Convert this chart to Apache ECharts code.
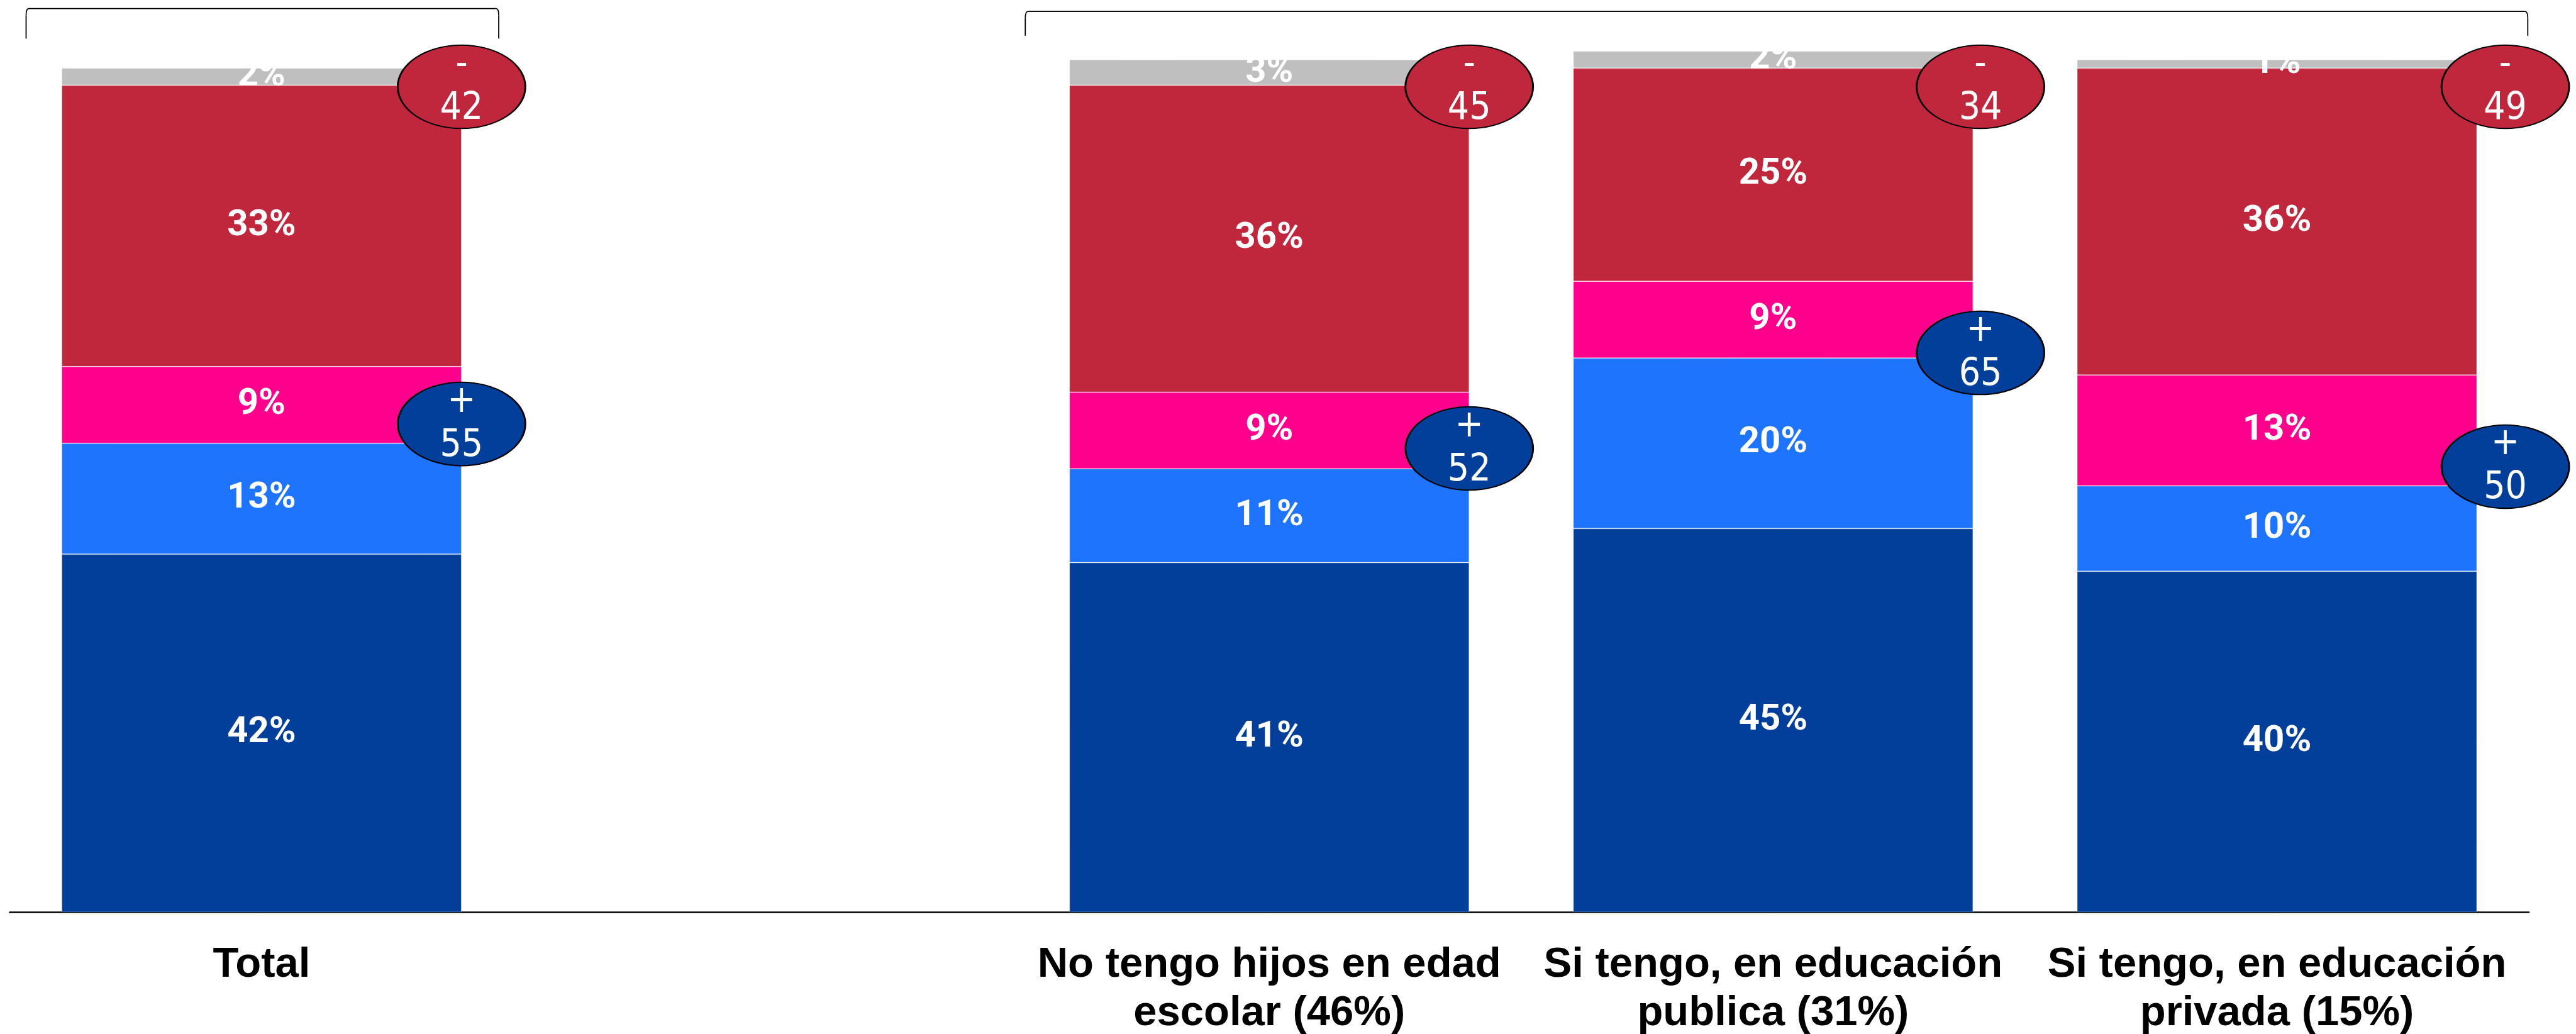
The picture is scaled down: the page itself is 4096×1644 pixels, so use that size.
<!DOCTYPE html>
<html>
<head>
<meta charset="utf-8">
<script src="https://cdn.jsdelivr.net/npm/echarts@6/dist/echarts.min.js"></script>
<style>
  html, body { margin: 0; padding: 0; background: #ffffff; }
  #chart { width: 4096px; height: 1644px; }
</style>
</head>
<body>
<div id="chart"></div>
<script>
// Categories (the empty one leaves a gap between "Total" and the breakdown)
const categories = [
  'Total',
  '',
  'No tengo hijos en edad\nescolar (46%)',
  'Si tengo, en educación\npublica (31%)',
  'Si tengo, en educación\nprivada (15%)'
];

// Stacked shares in %, bottom to top
const muyPositivo = [42, null, 41, 45, 40];
const positivo    = [13, null, 11, 20, 10];
const neutral     = [9,  null, 9,  9,  13];
const negativo    = [33, null, 36, 25, 36];
const nsnc        = [2,  null, 3,  2,  1];

// Overall scale of the drawing
const S = 0.902;
const BAR_W = 705;

// Bubble placement tweaks (px before scaling), relative to the bar's right edge
const bubbleShiftX = [0, 0, 0, 13, 50];
const plusShiftY   = [-34, 0, -36, -9, -34];
const minusShiftY  = 48;

const colors = {
  darkBlue: '#023F9B',
  lightBlue: '#1F74FE',
  pink: '#FF008C',
  red: '#C0273C',
  gray: '#BFBFBF'
};

const chart = echarts.init(document.getElementById('chart'));

const segLabel = {
  show: true,
  position: 'inside',
  color: '#ffffff',
  fontFamily: 'Roboto',
  fontWeight: 700,
  fontSize: Math.round(64 * S),
  formatter: p => (p.value == null ? '' : p.value + '%')
};

function barSeries(name, data, color) {
  return {
    name: name,
    type: 'bar',
    stack: 'share',
    data: data.map(v => (v == null ? '-' : v)),
    barWidth: BAR_W * S,
    clip: false,
    itemStyle: { color: color, borderColor: 'rgba(255,255,255,0.28)', borderWidth: 1 },
    label: segLabel,
    emphasis: { disabled: true },
    z: 2
  };
}

const bubbleLabel = {
  show: true,
  position: 'inside',
  color: '#ffffff',
  fontFamily: '"Liberation Sans Narrow", "DejaVu Sans Condensed", sans-serif',
  fontWeight: 400,
  fontSize: Math.round(66 * S),
  lineHeight: Math.round(78 * S),
  align: 'center',
  verticalAlign: 'middle'
};

const plusData = categories.map((c, i) => {
  if (muyPositivo[i] == null) return '-';
  const sum = muyPositivo[i] + positivo[i];
  return {
    value: sum,
    symbolOffset: [(BAR_W / 2 + bubbleShiftX[i]) * S, plusShiftY[i] * S],
    label: { formatter: '+\n' + sum }
  };
});

const minusData = categories.map((c, i) => {
  if (neutral[i] == null) return '-';
  const sum = neutral[i] + negativo[i];
  return {
    value: 100,
    symbolOffset: [(BAR_W / 2 + bubbleShiftX[i]) * S, minusShiftY * S],
    label: { formatter: '-\n' + sum }
  };
});

const bubbleSize = [225 * S, 147 * S];

const option = {
  backgroundColor: '#ffffff',
  animation: false,
  grid: {
    left: 17 * S,
    right: 4096 - 4458 * S,
    top: 105 * S,
    bottom: 1644 - 1608 * S,
    containLabel: false,
    outerBoundsMode: 'none'
  },
  xAxis: {
    type: 'category',
    data: categories,
    axisLine: { show: true, lineStyle: { color: '#000000', width: 2.6 } },
    axisTick: { show: false },
    splitLine: { show: false },
    axisLabel: {
      interval: 0,
      margin: 46,
      color: '#000000',
      fontFamily: '"Liberation Sans", Arial, sans-serif',
      fontWeight: 700,
      fontSize: Math.round(74 * S),
      lineHeight: Math.round(85 * S),
      align: 'center'
    }
  },
  yAxis: {
    type: 'value',
    min: 0,
    max: 100,
    show: false,
    splitLine: { show: false }
  },
  series: [
    barSeries('Muy positivo', muyPositivo, colors.darkBlue),
    barSeries('Positivo', positivo, colors.lightBlue),
    barSeries('Neutral', neutral, colors.pink),
    barSeries('Negativo', negativo, colors.red),
    barSeries('Ns/Nc', nsnc, colors.gray),
    {
      name: 'Suma positiva',
      type: 'scatter',
      data: plusData,
      symbol: 'circle',
      symbolSize: bubbleSize,
      clip: false,
      itemStyle: { color: colors.darkBlue, borderColor: '#000000', borderWidth: 2.4, opacity: 1 },
      label: bubbleLabel,
      emphasis: { disabled: true },
      z: 5
    },
    {
      name: 'Suma negativa',
      type: 'scatter',
      data: minusData,
      symbol: 'circle',
      symbolSize: bubbleSize,
      clip: false,
      itemStyle: { color: colors.red, borderColor: '#000000', borderWidth: 2.4, opacity: 1 },
      label: bubbleLabel,
      emphasis: { disabled: true },
      z: 5
    }
  ]
};

chart.setOption(option);

// Group brackets above the bars, placed from the category axis
const bracketStyle = { stroke: '#000000', lineWidth: 1.8, fill: null };

function bracket(x1, x2, yTop, yBottom) {
  const rx = 5 * S, ry = 12 * S;
  const parts = [
    { type: 'line', shape: { x1: x1, y1: yBottom, x2: x1, y2: yTop + ry } },
    { type: 'bezierCurve', shape: { x1: x1, y1: yTop + ry, cpx1: x1, cpy1: yTop, x2: x1 + rx, y2: yTop } },
    { type: 'line', shape: { x1: x1 + rx, y1: yTop, x2: x2 - rx, y2: yTop } },
    { type: 'bezierCurve', shape: { x1: x2 - rx, y1: yTop, cpx1: x2, cpy1: yTop, x2: x2, y2: yTop + ry } },
    { type: 'line', shape: { x1: x2, y1: yTop + ry, x2: x2, y2: yBottom } }
  ];
  return {
    type: 'group',
    silent: true,
    children: parts.map(p => Object.assign(p, { style: bracketStyle }))
  };
}

const c0 = chart.convertToPixel({ xAxisIndex: 0 }, 0);
const c1 = chart.convertToPixel({ xAxisIndex: 0 }, 1);
const c2 = chart.convertToPixel({ xAxisIndex: 0 }, 2);
const c4 = chart.convertToPixel({ xAxisIndex: 0 }, 4);
const band = c1 - c0;

chart.setOption({
  graphic: [
    bracket(c0 - band / 2 + 29 * S, c0 + band / 2 - 26 * S, 15 * S, 68 * S),
    bracket(c2 - band / 2 + 14 * S, c4 + band / 2 - 2 * S, 20 * S, 63 * S)
  ]
});
</script>
</body>
</html>
